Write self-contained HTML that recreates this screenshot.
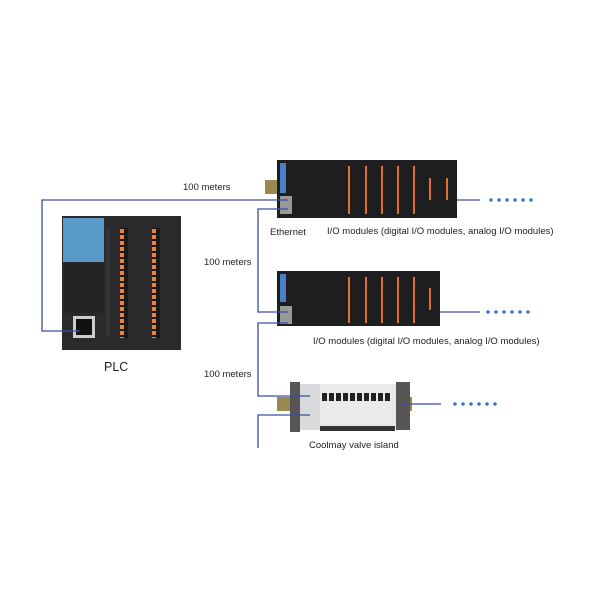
<!DOCTYPE html>
<html><head><meta charset="utf-8"><style>
body{margin:0;background:#fff;}
svg{display:block;font-family:"Liberation Sans",sans-serif;}
</style></head><body>
<svg width="600" height="600" viewBox="0 0 600 600">
<defs>
<pattern id="term" width="8" height="6" patternUnits="userSpaceOnUse">
<rect width="8" height="6" fill="#1a1a1a"/><rect x="0" y="1" width="4" height="4" fill="#f08040"/>
</pattern>
</defs>
<!-- PLC -->
<rect x="62" y="216" width="119" height="134" fill="#2a2a2c"/>
<rect x="63" y="218" width="41" height="44" fill="#5a9ac8"/>
<rect x="64" y="263" width="40" height="50" fill="#242426"/>
<rect x="106" y="228" width="4" height="108" fill="#333"/>
<rect x="120" y="228" width="8" height="110" fill="url(#term)"/>
<rect x="152" y="228" width="8" height="110" fill="url(#term)"/>
<rect x="73" y="316" width="22" height="22" fill="#ccc"/>
<rect x="76" y="319" width="16" height="16" fill="#111"/>
<!-- Module 1 -->
<rect x="265" y="180" width="12" height="14" fill="#9a8a50"/>
<rect x="277" y="160" width="180" height="58" fill="#1e1e20"/>
<rect x="280" y="163" width="6" height="30" fill="#4a80c8"/>
<rect x="280" y="196" width="12" height="18" fill="#999"/>
<g fill="#e0702c"><rect x="348" y="166" width="2" height="48"/><rect x="365" y="166" width="2" height="48"/><rect x="381" y="166" width="2" height="48"/><rect x="397" y="166" width="2" height="48"/><rect x="413" y="166" width="2" height="48"/><rect x="429" y="178" width="2" height="22"/><rect x="446" y="178" width="2" height="22"/></g>
<!-- Module 2 -->
<rect x="277" y="271" width="163" height="55" fill="#1e1e20"/>
<rect x="280" y="274" width="6" height="28" fill="#4a80c8"/>
<rect x="280" y="306" width="12" height="18" fill="#999"/>
<g fill="#e0702c"><rect x="348" y="277" width="2" height="46"/><rect x="365" y="277" width="2" height="46"/><rect x="381" y="277" width="2" height="46"/><rect x="397" y="277" width="2" height="46"/><rect x="413" y="277" width="2" height="46"/><rect x="429" y="288" width="2" height="22"/></g>
<!-- Valve island -->
<rect x="277" y="397" width="14" height="14" fill="#9a8a50"/>
<rect x="398" y="397" width="14" height="14" fill="#9a8a50"/>
<rect x="290" y="382" width="10" height="50" fill="#555"/>
<rect x="300" y="384" width="20" height="46" fill="#d8dadc"/>
<rect x="320" y="384" width="78" height="44" fill="#e8eaec"/>
<g fill="#222"><rect x="322" y="393" width="5" height="8"/><rect x="329" y="393" width="5" height="8"/><rect x="336" y="393" width="5" height="8"/><rect x="343" y="393" width="5" height="8"/><rect x="350" y="393" width="5" height="8"/><rect x="357" y="393" width="5" height="8"/><rect x="364" y="393" width="5" height="8"/><rect x="371" y="393" width="5" height="8"/><rect x="378" y="393" width="5" height="8"/><rect x="385" y="393" width="5" height="8"/></g>
<rect x="320" y="426" width="75" height="5" fill="#333"/>
<rect x="396" y="382" width="14" height="48" fill="#555"/>
<!-- connecting lines -->
<g stroke="#3a4fa0" stroke-width="1.3" fill="none">
<polyline points="80,331 42,331 42,200 288,200"/>
<polyline points="288,209 258,209 258,312 288,312"/>
<polyline points="288,323 258,323 258,396 310,396"/>
<polyline points="310,415 258,415 258,448"/>
<line x1="457" y1="200" x2="480" y2="200"/>
<line x1="440" y1="312" x2="480" y2="312"/>
<line x1="402" y1="404" x2="441" y2="404"/>
</g>
<!-- dots -->
<g fill="#3a7ac8">
<circle cx="491" cy="200" r="1.8"/><circle cx="499" cy="200" r="1.8"/><circle cx="507" cy="200" r="1.8"/><circle cx="515" cy="200" r="1.8"/><circle cx="523" cy="200" r="1.8"/><circle cx="531" cy="200" r="1.8"/>
<circle cx="488" cy="312" r="1.8"/><circle cx="496" cy="312" r="1.8"/><circle cx="504" cy="312" r="1.8"/><circle cx="512" cy="312" r="1.8"/><circle cx="520" cy="312" r="1.8"/><circle cx="528" cy="312" r="1.8"/>
<circle cx="455" cy="404" r="1.8"/><circle cx="463" cy="404" r="1.8"/><circle cx="471" cy="404" r="1.8"/><circle cx="479" cy="404" r="1.8"/><circle cx="487" cy="404" r="1.8"/><circle cx="495" cy="404" r="1.8"/>
</g>
<!-- labels -->
<g font-size="9.5" fill="#222">
<text x="183" y="190">100 meters</text>
<text x="204" y="265">100 meters</text>
<text x="204" y="377">100 meters</text>
<text x="270" y="235">Ethernet</text>
<text x="327" y="234">I/O modules (digital I/O modules, analog I/O modules)</text>
<text x="313" y="344">I/O modules (digital I/O modules, analog I/O modules)</text>
<text x="309" y="448">Coolmay valve island</text>
</g>
<text x="104" y="371" font-size="12.5" fill="#222">PLC</text>
</svg>
</body></html>
